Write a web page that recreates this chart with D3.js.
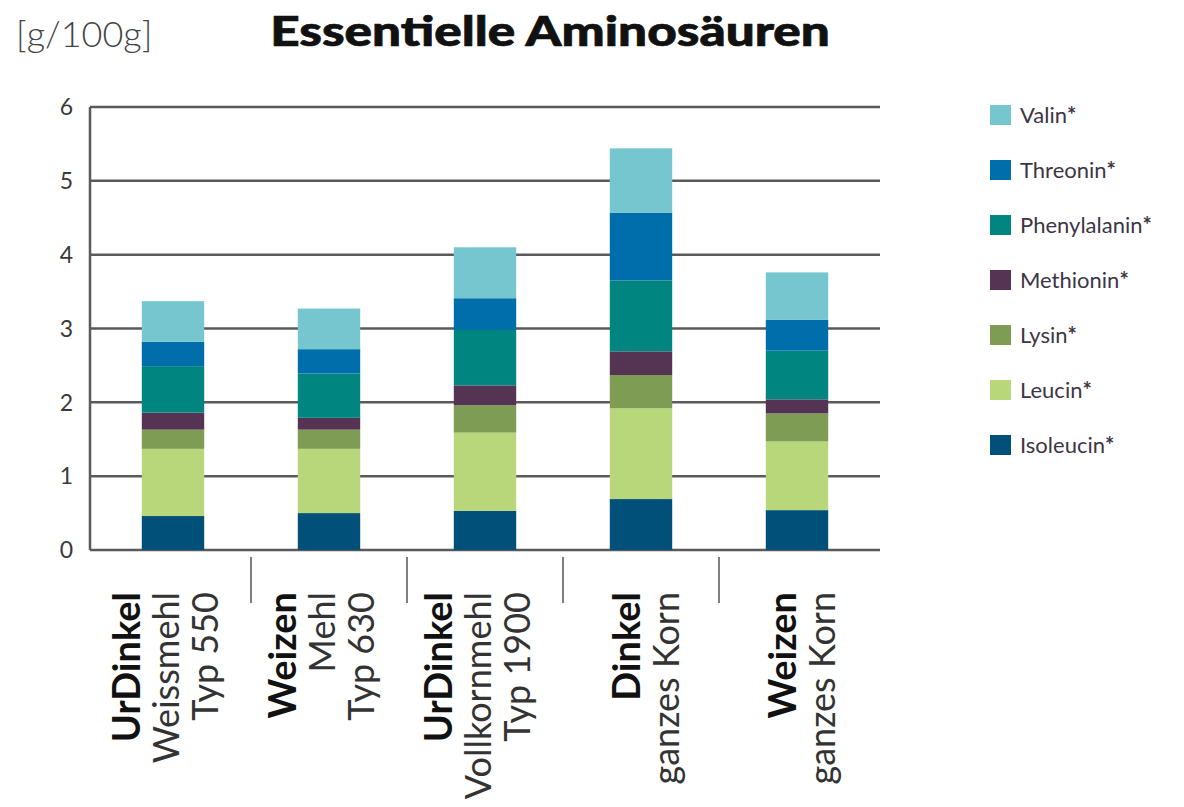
<!DOCTYPE html>
<html>
<head>
<meta charset="utf-8">
<script src="https://cdn.jsdelivr.net/npm/d3@7"></script>
<style>
  body { margin: 0; background: #fff; }
  svg { font-family: Lato, "Open Sans", sans-serif; }
</style>
</head>
<body>
<div class="chart"></div>
<script>
// values, g per 100 g
var keys = ["Isoleucin", "Leucin", "Lysin", "Methionin", "Phenylalanin", "Threonin", "Valin"]
var colors = ["#00507a", "#b8d67a", "#7f9c55", "#553453", "#008580", "#006eaa", "#76c6cf"]

var lineBold = ["UrDinkel", "Weizen", "UrDinkel", "Dinkel", "Weizen"]
var line2 = ["Weissmehl", "Mehl", "Vollkornmehl", "ganzes Korn", "ganzes Korn"]
var line3 = ["Typ 550", "Typ 630", "Typ 1900", "", ""]

var isoleucin    = [0.46, 0.50, 0.53, 0.69, 0.54]
var leucin       = [0.91, 0.87, 1.06, 1.23, 0.93]
var lysin        = [0.26, 0.26, 0.37, 0.45, 0.38]
var methionin    = [0.23, 0.16, 0.27, 0.32, 0.19]
var phenylalanin = [0.63, 0.60, 0.75, 0.96, 0.66]
var threonin     = [0.33, 0.33, 0.43, 0.92, 0.42]
var valin        = [0.55, 0.55, 0.69, 0.87, 0.64]

var yTicks = [0, 1, 2, 3, 4, 5, 6]

var series = [isoleucin, leucin, lysin, methionin, phenylalanin, threonin, valin]
var rows = lineBold.map((d, i) => {
    var r = {i: i}
    keys.forEach((k, j) => r[k] = series[j][i])
    return r
})

var svg = d3.select(".chart").append("svg").attr("width", 1184).attr("height", 807)

var x = d3.scaleBand().domain(d3.range(lineBold.length)).range([95, 875]).paddingInner(0.6).paddingOuter(0.3)
var y = d3.scaleLinear().domain([0, 6]).range([550, 107])
var color = d3.scaleOrdinal().domain(keys).range(colors)

// title + unit (heavy wide face -> stretched bold)
svg.append("text").attr("transform", "translate(550,46) scale(1.25,1)").attr("text-anchor", "middle")
    .attr("font-size", 41).attr("font-weight", 900).attr("fill", "#111")
    .attr("stroke", "#111").attr("stroke-width", 0.7)
    .text("Essentielle Aminosäuren")
svg.append("text").attr("x", 16).attr("y", 47)
    .attr("font-size", 36).attr("font-weight", 300).attr("fill", "#444")
    .text("[g/100g]")

// gridlines
svg.append("g").selectAll("line").data(yTicks).enter().append("line")
    .attr("x1", 90).attr("x2", 880)
    .attr("y1", d => y(d)).attr("y2", d => y(d))
    .attr("stroke", "#5a5a5a").attr("stroke-width", 2.5)
svg.append("line").attr("x1", 90).attr("x2", 90).attr("y1", y(6)).attr("y2", y(0))
    .attr("stroke", "#5a5a5a").attr("stroke-width", 2.5)

svg.append("g").selectAll("text").data(yTicks).enter().append("text")
    .attr("x", 73).attr("y", d => y(d)).attr("dy", "0.36em").attr("text-anchor", "end")
    .attr("font-size", 23).attr("fill", "#3a3a3a")
    .text(d => d)

// stacked bars
var stack = d3.stack().keys(keys)(rows)
svg.append("g").selectAll("g").data(stack).enter().append("g")
    .attr("fill", d => color(d.key))
    .selectAll("rect").data(d => d).enter().append("rect")
    .attr("x", d => x(d.data.i))
    .attr("width", x.bandwidth())
    .attr("y", d => y(d[1]))
    .attr("height", d => y(d[0]) - y(d[1]))

// separators between categories
svg.append("g").selectAll("line").data(d3.range(1, lineBold.length)).enter().append("line")
    .attr("x1", d => x(d) - x.step() * x.paddingInner() / 2)
    .attr("x2", d => x(d) - x.step() * x.paddingInner() / 2)
    .attr("y1", 557).attr("y2", 603)
    .attr("stroke", "#555").attr("stroke-width", 1.5)

// rotated category labels
var lab = svg.append("g").selectAll("g").data(lineBold).enter().append("g")
    .attr("transform", (d, i) => `translate(${x(i) + x.bandwidth() / 2},592) rotate(-90)`)
lab.each(function(d, i) {
    var lines = [lineBold[i], line2[i], line3[i]].filter(s => s)
    var dy0 = lines.length == 3 ? -33 : -1
    d3.select(this).selectAll("text").data(lines).enter().append("text")
        .attr("x", 0).attr("y", (s, j) => dy0 + j * 39)
        .attr("text-anchor", "end")
        .attr("font-size", (s, j) => j == 0 ? 38 : 36)
        .attr("font-weight", (s, j) => j == 0 ? 700 : 400)
        .attr("fill", (s, j) => j == 0 ? "#111" : "#333")
        .text(s => s)
})

// legend, top entry = last stack layer
var leg = svg.append("g").selectAll("g").data(keys.slice().reverse()).enter().append("g")
    .attr("transform", (d, i) => `translate(990,${105 + i * 55})`)
leg.append("rect").attr("width", 21).attr("height", 20).attr("fill", d => color(d))
var lt = leg.append("text").attr("x", 30).attr("y", 10).attr("dy", "0.36em")
    .attr("font-size", 22).attr("fill", "#3d3545")
lt.append("tspan").text(d => d)
lt.append("tspan").attr("font-weight", 700).text("*")
</script>
</body>
</html>
